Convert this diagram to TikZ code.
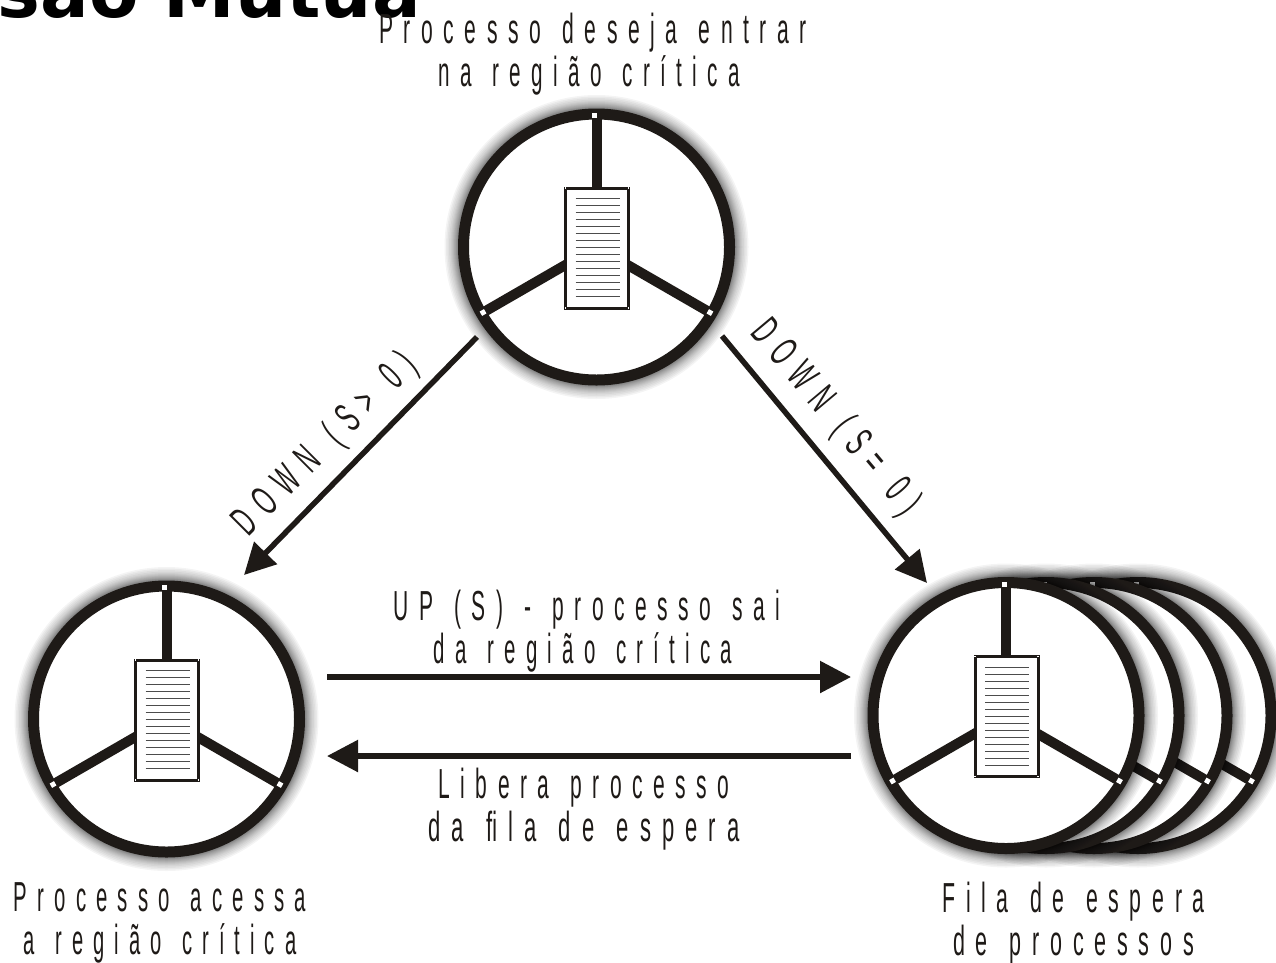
\documentclass[tikz,border=0pt]{standalone}
\usepackage{fontspec}
\usepackage{graphicx}
\usetikzlibrary{arrows.meta}
\setmainfont{Liberation Sans}
\newfontfamily\labfont[FakeStretch=0.5,LetterSpace=25,WordSpace=1.3]{Liberation Sans}
\newfontfamily\titlefont{DejaVu Sans Bold}
\definecolor{ink}{HTML}{1E1A17}
\newcommand{\xs}[2]{\scalebox{#1}[1]{#2}}
\tikzset{
  lab/.style={font=\labfont\fontsize{42}{43}\selectfont,align=center,text=ink,inner sep=0pt},
  ringnode/.style={circle,draw=ink,fill=white,line width=11pt,minimum size=266pt,inner sep=0pt,outer sep=0pt},
  spoke/.style={draw=ink,line width=10pt},
  card/.style={draw=ink,fill=white,line width=3pt},
  cardline/.style={draw=black!70,line width=0.9pt},
  handle/.style={fill=white},
  conn/.style={draw=ink,line width=5.5pt,-{Triangle[length=31pt,width=31pt]}},
}
\newcommand{\wheel}[3]{%
  \begin{scope}[shift={(#1,#2)}]
    \foreach \r in {152,150.5,149,147.5,146,145,144,143.25,142.5,141.75,141,140.5,140,139.5,139}{\fill[black,opacity=0.042] (0,0) circle[radius=\r];}
    \node[ringnode] (#3) at (0,0) {};
    \coordinate (#3t) at (-90:133);
    \coordinate (#3l) at (150:133);
    \coordinate (#3r) at (30:133);
    \draw[spoke] (#3.center) -- (#3t);
    \draw[spoke] (#3.center) -- (#3l);
    \draw[spoke] (#3.center) -- (#3r);
    \draw[card] (-31,-59) rectangle (32,61);
    \foreach \i in {0,...,14}{\draw[cardline] (-21,-48.5+7*\i) -- (23,-48.5+7*\i);}
    \fill[handle] (-4.5,-134) rectangle (0.5,-129);
    \foreach \a in {150,30}{\fill[handle,shift={(\a:131)},rotate=-\a] (-2.5,-2.5) rectangle (2.5,2.5);}
    \foreach \p/\q in {-31/-59,32/-59,-31/61,32/61}{\fill[handle] (\p-0.8,\q-0.8) rectangle (\p+0.8,\q+0.8);}
  \end{scope}}
\begin{document}
\begin{tikzpicture}[x=1pt,y=-1pt]
\useasboundingbox (0,0) rectangle (1276,962);
\clip (0,0) rectangle (1276,962);
\node[anchor=base east,inner sep=0pt,font=\titlefont\fontsize{72}{72}\selectfont] (title) at (421,17) {são Mútua};
\node[lab] (l1) at (593,54) {\xs{1.005}{Processo deseja entrar}\\\kern-8pt\xs{.984}{na região crítica}};
\node[lab] (l2) at (587,631) {UP (S) - processo sai\\\kern-8pt\xs{.974}{da região crítica}};
\node[lab] (l3) at (584,809.5) {Libera processo\\\xs{1.05}{da ﬁla de espera}};
\node[lab] (l4) at (160,923) {\xs{.97}{Processo acessa}\\\xs{.96}{a região crítica}};
\node[lab] (l5) at (1073.5,923) {\xs{1.015}{Fila de espera}\\\xs{1.025}{de processos}};
\node[lab,rotate=45] (l6) at (326,445) {\xs{1.07}{DOWN (S> 0)}};
\node[lab,rotate=-50] (l7) at (835,418) {\xs{1.07}{DOWN (S= 0)}};
\wheel{1138}{715.5}{w6}
\wheel{1094}{715.5}{w5}
\wheel{1046}{715.5}{w4}
\wheel{1006}{715.5}{w3}
\wheel{166.5}{719}{w2}
\wheel{596.5}{247}{w1}
\coordinate (a1) at (477,337); \coordinate (b1) at (244,575);
\coordinate (a2) at (722,336); \coordinate (b2) at (927,583);
\coordinate (a3) at (327,677); \coordinate (b3) at (851,677);
\coordinate (a4) at (851,756); \coordinate (b4) at (327,756);
\draw[conn] (a1) -- (b1);
\draw[conn] (a2) -- (b2);
\draw[conn] (a3) -- (b3);
\draw[conn] (a4) -- (b4);
\end{tikzpicture}
\end{document}
